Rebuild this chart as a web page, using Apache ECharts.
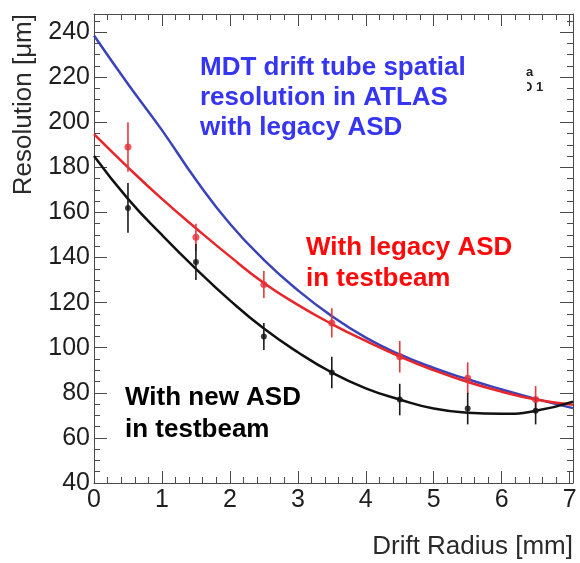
<!DOCTYPE html>
<html>
<head>
<meta charset="utf-8">
<script src="https://cdn.jsdelivr.net/npm/echarts@6/dist/echarts.min.js"></script>
<style>
  html, body { margin: 0; padding: 0; background: #fff; }
  #chart { width: 580px; height: 563px; }
</style>
</head>
<body>
<div id="chart"></div>
<script>
// Drift-radius bins (mm) of the measured points
const radiusBins = [0.5, 1.5, 2.5, 3.5, 4.5, 5.5, 6.5];

// Testbeam measurements with the new ASD chip (µm) and their errors
const resNewASD = [162, 138, 105, 89, 77, 73, 72];
const errNewASD = [11, 8, 6, 7, 7, 7, 6];

// Testbeam measurements with the legacy ASD chip (µm) and their errors
const resLegacyASD = [189, 149, 128, 111, 96, 86.5, 77];
const errLegacyASD = [11, 6, 6, 6.5, 7, 7, 6];

// Resolution curves sampled along the drift radius
const curveRadius = [0, 0.5, 1, 1.5, 2, 2.5, 3, 3.5, 4, 4.5, 5, 5.5, 6, 6.5, 7.05];
const curveAtlas  = [238.5, 217, 196.5, 174.5, 155, 139, 125.5, 114, 104.5, 97, 91, 86, 81.5, 77.3, 73.2];
const curveLegacy = [194.7, 180, 166, 153, 140.5, 128.7, 119, 110.5, 103, 96.1, 90, 84.8, 80.5, 77, 74.7];
const curveNew    = [185, 166, 150, 135, 121, 108.5, 98, 89, 82, 77, 73, 71.2, 70.7, 72, 76.1];

// Axis ranges and tick steps
const xRange = [0, 7.05];
const yRange = [40, 248];
const xMajor = 1, xMinor = 0.2;
const yMajor = 20, yMinor = 5;

const FONT = 'Liberation Sans, Arial, Helvetica, sans-serif';
const AXIS_COLOR = '#4a4a4a';
const LABEL_COLOR = '#1e1e1e';

const zip = (xs, ys) => xs.map((x, i) => [x, ys[i]]);
const zip3 = (xs, ys, es) => xs.map((x, i) => [x, ys[i], es[i]]);

function makeXAxis(position, interval, tickLen, withLabels, withLine) {
  return {
    type: 'value', position, min: xRange[0], max: xRange[1], interval,
    axisLine: { show: withLine, onZero: false, lineStyle: { color: AXIS_COLOR, width: 1 } },
    axisTick: { show: true, inside: true, length: tickLen, lineStyle: { color: AXIS_COLOR, width: 1 } },
    axisLabel: {
      show: withLabels, showMaxLabel: false, margin: 5,
      color: LABEL_COLOR, fontFamily: FONT, fontSize: 25
    },
    splitLine: { show: false }
  };
}

function makeYAxis(position, interval, tickLen, withLabels, withLine) {
  return {
    type: 'value', position, min: yRange[0], max: yRange[1], interval,
    axisLine: { show: withLine, onZero: false, lineStyle: { color: AXIS_COLOR, width: 1 } },
    axisTick: { show: true, inside: true, length: tickLen, lineStyle: { color: AXIS_COLOR, width: 1 } },
    axisLabel: {
      show: withLabels, showMaxLabel: false, margin: 4,
      color: LABEL_COLOR, fontFamily: FONT, fontSize: 25
    },
    splitLine: { show: false }
  };
}

// Vertical error bars drawn through the axis scales
function errorBars(data, color, width) {
  return {
    type: 'custom',
    data,
    z: 3,
    encode: { x: 0, y: 1 },
    renderItem(params, api) {
      const x = api.value(0), y = api.value(1), e = api.value(2);
      const lo = api.coord([x, y - e]);
      const hi = api.coord([x, y + e]);
      return {
        type: 'line',
        shape: { x1: lo[0], y1: lo[1], x2: hi[0], y2: hi[1] },
        style: { stroke: color, lineWidth: width }
      };
    }
  };
}

function curve(data, color) {
  return {
    type: 'line', data, smooth: true, showSymbol: false, z: 2,
    lineStyle: { color, width: 2.5 }, silent: true
  };
}

function points(data, color, size) {
  return {
    type: 'scatter', data, symbol: 'circle', symbolSize: size, z: 4,
    itemStyle: { color }, silent: true
  };
}

function label(text, x, y, color, size, extra) {
  return Object.assign({
    type: 'text', x, y, z: 10,
    style: {
      text, fill: color, fontFamily: FONT, fontSize: size, fontWeight: 'bold',
      align: 'left', verticalAlign: 'middle'
    }
  }, extra || {});
}

const chart = echarts.init(document.getElementById('chart'), null, { renderer: 'canvas' });

chart.setOption({
  animation: false,
  backgroundColor: '#ffffff',
  grid: { left: 94, right: 7, top: 14, bottom: 80 },
  xAxis: [
    makeXAxis('bottom', xMajor, 12, true, true),
    makeXAxis('top', xMajor, 12, false, true),
    makeXAxis('bottom', xMinor, 6, false, false),
    makeXAxis('top', xMinor, 6, false, false)
  ],
  yAxis: [
    makeYAxis('left', yMajor, 13, true, true),
    makeYAxis('right', yMajor, 13, false, true),
    makeYAxis('left', yMinor, 6, false, false),
    makeYAxis('right', yMinor, 6, false, false)
  ],
  series: [
    curve(zip(curveRadius, curveAtlas), '#3a44b8'),
    curve(zip(curveRadius, curveLegacy), '#e8262a'),
    curve(zip(curveRadius, curveNew), '#111111'),
    errorBars(zip3(radiusBins, resLegacyASD, errLegacyASD), '#e5393c', 1.6),
    errorBars(zip3(radiusBins, resNewASD, errNewASD), '#1a1a1a', 1.6),
    points(zip(radiusBins, resLegacyASD), '#e5303a', 7),
    points(zip(radiusBins, resNewASD), '#111111', 6)
  ],
  graphic: [
    // axis titles
    {
      type: 'text', x: 24, y: 14, rotation: Math.PI / 2, z: 10,
      style: {
        text: 'Resolution [μm]', fill: '#2a2a2a', fontFamily: FONT, fontSize: 26,
        align: 'right', verticalAlign: 'middle'
      }
    },
    {
      type: 'text', x: 573, y: 547, z: 10,
      style: {
        text: 'Drift Radius [mm]', fill: '#2a2a2a', fontFamily: FONT, fontSize: 26,
        align: 'right', verticalAlign: 'middle'
      }
    },
    // annotations
    label('MDT drift tube spatial', 200, 68, '#3535f2', 26),
    label('resolution in ATLAS', 200, 98, '#3535f2', 26),
    label('with legacy ASD', 200, 128, '#3535f2', 26),
    label('With legacy ASD', 306, 248, '#ff0a0a', 26),
    label('in testbeam', 306, 279, '#ff0a0a', 26),
    label('With new ASD', 125, 398, '#000000', 26),
    label('in testbeam', 125, 430, '#000000', 26),
    // partly hidden legend fragment
    label('a', 526, 72, '#222222', 13),
    label('D 1', 523, 87, '#222222', 13),
    {
      type: 'rect', z: 11,
      shape: { x: 515, y: 78, width: 12, height: 18 },
      style: { fill: '#ffffff' }
    }
  ]
});
</script>
</body>
</html>
